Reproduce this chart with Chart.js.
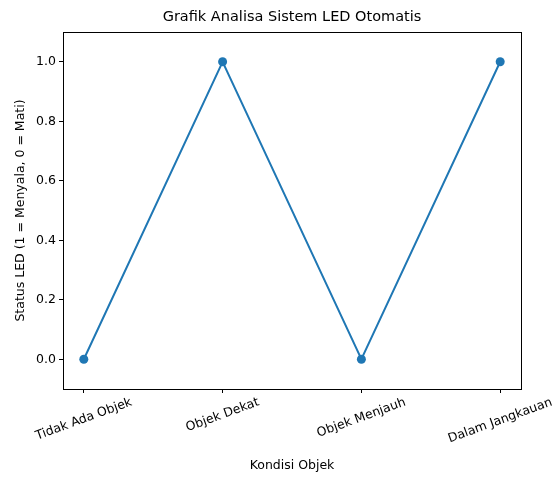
<!DOCTYPE html>
<html>
<head>
<meta charset="utf-8">
<script src="https://cdn.jsdelivr.net/npm/chart.js@4.4.0/dist/chart.umd.min.js"></script>
<style>
  html, body { margin: 0; padding: 0; background: #fff; }
  #wrap { width: 558px; height: 477px; }
</style>
</head>
<body>
<div id="wrap"><canvas id="c" width="558" height="477"></canvas></div>
<script>
const conditions = ['Tidak Ada Objek', 'Objek Dekat', 'Objek Menjauh', 'Dalam Jangkauan'];
const ledStatus = [0, 1, 0, 1];
const yTicks = [0, 0.2, 0.4, 0.6, 0.8, 1.0];

const FONT = 'DejaVu Sans';
const BLUE = '#1f77b4';
const LABEL_SIZE = 12.5;

// box around the plot + rotated category labels (matplotlib style)
const mplFrame = {
  id: 'mplFrame',
  afterDraw(chart) {
    const { ctx, chartArea: a, scales } = chart;
    ctx.save();
    ctx.strokeStyle = '#000';
    ctx.lineWidth = 1;
    ctx.strokeRect(a.left + 0.5, a.top + 0.5, a.right - a.left, a.bottom - a.top);

    ctx.font = `${LABEL_SIZE}px "${FONT}"`;
    ctx.fillStyle = '#000';
    ctx.textAlign = 'center';
    ctx.textBaseline = 'middle';
    const ang = 20 * Math.PI / 180;
    conditions.forEach((lab, i) => {
      const px = scales.x.getPixelForValue(i);
      const w = ctx.measureText(lab).width;
      const h = LABEL_SIZE;
      const bh = w * Math.sin(ang) + h * Math.cos(ang);
      ctx.save();
      ctx.translate(px, a.bottom + 7 + bh / 2);
      ctx.rotate(-ang);
      ctx.fillText(lab, 0, 0);
      ctx.restore();
    });
    ctx.restore();
  }
};

new Chart(document.getElementById('c'), {
  type: 'line',
  data: {
    datasets: [{
      data: ledStatus.map((v, i) => ({ x: i, y: v })),
      borderColor: BLUE,
      backgroundColor: BLUE,
      borderWidth: 2,
      pointRadius: 4.5,
      pointHoverRadius: 4.5,
      pointBackgroundColor: BLUE,
      pointBorderWidth: 0,
      tension: 0,
    }]
  },
  options: {
    responsive: false,
    animation: false,
    layout: { padding: { top: 0, right: 37, bottom: 0, left: 0 } },
    plugins: {
      legend: { display: false },
      tooltip: { enabled: false },
      title: {
        display: true,
        fullSize: false,
        text: 'Grafik Analisa Sistem LED Otomatis',
        color: '#000',
        font: { family: FONT, size: 14.5, weight: 'normal' },
        padding: { top: 9, bottom: 5.6 },
      },
    },
    scales: {
      x: {
        type: 'linear',
        min: -0.15,
        max: 3.15,
        afterBuildTicks: s => { s.ticks = conditions.map((_, i) => ({ value: i })); },
        afterFit: s => { s.height = 477 - 389; },
        ticks: { display: false },
        grid: { drawOnChartArea: false, drawTicks: true, tickLength: 4, color: '#000' },
        border: { display: true, color: '#000' },
        title: {
          display: true,
          text: 'Kondisi Objek',
          color: '#000',
          font: { family: FONT, size: LABEL_SIZE },
          padding: { top: 4, bottom: 4 },
        },
      },
      y: {
        min: -0.1,
        max: 1.1,
        afterBuildTicks: s => { s.ticks = yTicks.map(v => ({ value: v })); },
        afterFit: s => { s.width = 63; },
        ticks: {
          color: '#000',
          font: { family: FONT, size: LABEL_SIZE },
          padding: 3,
          callback: v => v.toFixed(1),
        },
        grid: { drawOnChartArea: false, drawTicks: true, tickLength: 4, color: '#000' },
        border: { display: true, color: '#000' },
        title: {
          display: true,
          text: 'Status LED (1 = Menyala, 0 = Mati)',
          color: '#000',
          font: { family: FONT, size: LABEL_SIZE },
          padding: { top: 13, bottom: 4 },
        },
      },
    },
  },
  plugins: [mplFrame],
});
</script>
</body>
</html>
